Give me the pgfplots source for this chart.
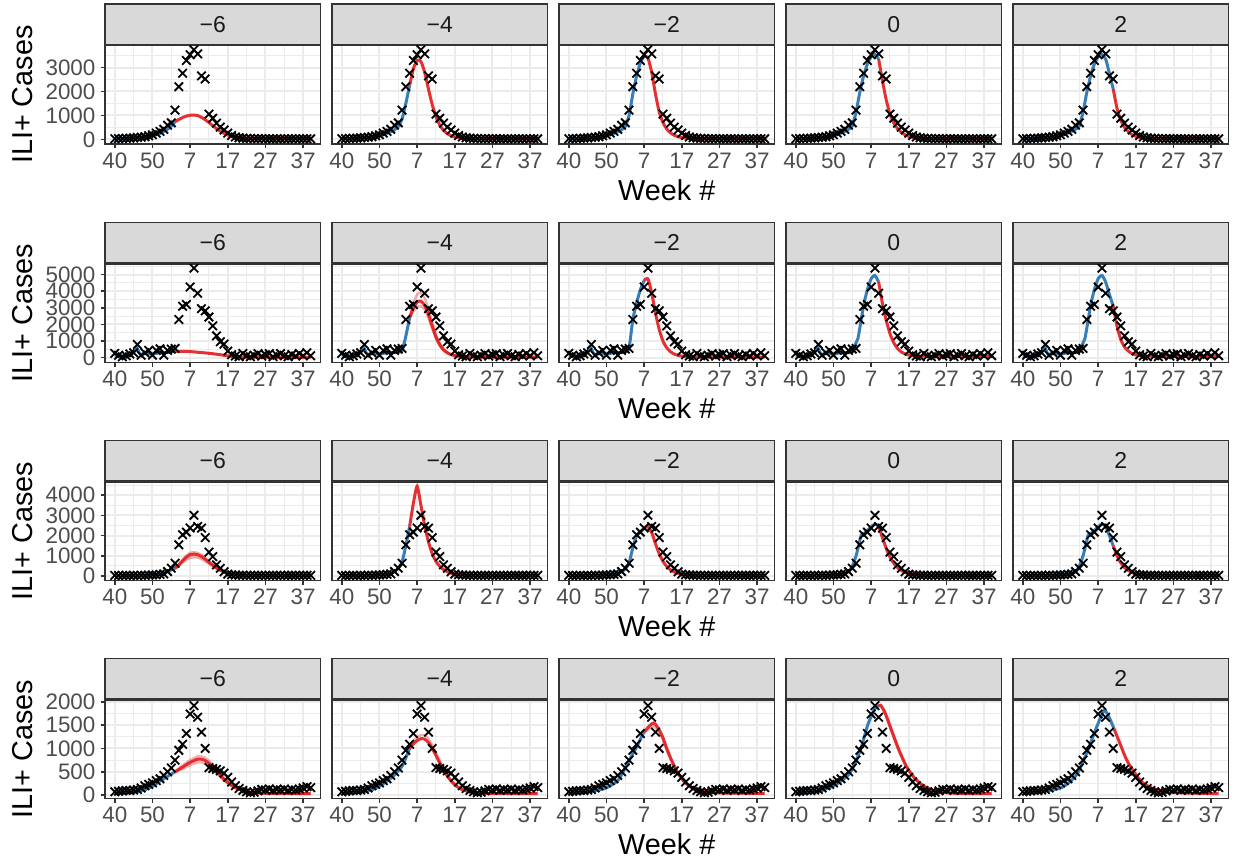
\documentclass[border=0pt]{standalone}
\usepackage{pgfplots}
\pgfplotsset{compat=1.18}
\usepackage{pgfplotstable}
\usepackage{fontspec}
\setmainfont{Liberation Sans}

\definecolor{gridc}{HTML}{EBEBEB}
\definecolor{framec}{HTML}{333333}
\definecolor{stripc}{HTML}{D9D9D9}
\definecolor{tickc}{HTML}{4D4D4D}
\definecolor{textc}{HTML}{1A1A1A}
\definecolor{bluec}{HTML}{377EB8}
\definecolor{redc}{HTML}{E41A1C}

\pgfplotstableread[row sep=\\]{
i v\\ 0 25\\ 1 30\\ 2 35\\ 3 45\\ 4 50\\ 5 60\\ 6 75\\ 7 90\\ 8 110\\ 9 150\\ 10 190\\ 11 260\\ 12 330\\ 13 420\\ 14 590\\ 15 690\\ 16 1220\\ 17 2200\\ 18 2760\\ 19 3290\\ 20 3530\\ 21 3740\\ 22 3570\\ 23 2650\\ 24 2520\\ 25 1050\\ 26 880\\ 27 680\\ 28 510\\ 29 390\\ 30 260\\ 31 160\\ 32 100\\ 33 70\\ 34 50\\ 35 40\\ 36 35\\ 37 30\\ 38 30\\ 39 28\\ 40 25\\ 41 25\\ 42 22\\ 43 25\\ 44 22\\ 45 25\\ 46 22\\ 47 25\\ 48 22\\ 49 25\\ 50 22\\ 51 25\\ 52 22\\
}\dataA

\pgfplotstableread[row sep=\\]{
i v\\ 0 260\\ 1 150\\ 2 60\\ 3 120\\ 4 220\\ 5 300\\ 6 800\\ 7 150\\ 8 300\\ 9 440\\ 10 150\\ 11 440\\ 12 540\\ 13 150\\ 14 440\\ 15 520\\ 16 560\\ 17 2300\\ 18 3100\\ 19 3200\\ 20 4250\\ 21 5390\\ 22 3880\\ 23 2950\\ 24 2820\\ 25 2450\\ 26 1920\\ 27 1320\\ 28 960\\ 29 820\\ 30 400\\ 31 180\\ 32 100\\ 33 60\\ 34 250\\ 35 120\\ 36 60\\ 37 150\\ 38 250\\ 39 100\\ 40 180\\ 41 250\\ 42 60\\ 43 150\\ 44 250\\ 45 120\\ 46 60\\ 47 200\\ 48 100\\ 49 250\\ 50 120\\ 51 300\\ 52 120\\
}\dataB

\pgfplotstableread[row sep=\\]{
i v\\ 0 30\\ 1 20\\ 2 25\\ 3 30\\ 4 20\\ 5 30\\ 6 25\\ 7 35\\ 8 30\\ 9 40\\ 10 50\\ 11 60\\ 12 80\\ 13 100\\ 14 220\\ 15 385\\ 16 630\\ 17 1540\\ 18 2040\\ 19 2170\\ 20 2370\\ 21 3000\\ 22 2450\\ 23 2370\\ 24 1900\\ 25 1180\\ 26 960\\ 27 550\\ 28 380\\ 29 210\\ 30 90\\ 31 60\\ 32 45\\ 33 40\\ 34 35\\ 35 30\\ 36 30\\ 37 30\\ 38 30\\ 39 30\\ 40 30\\ 41 30\\ 42 30\\ 43 30\\ 44 30\\ 45 30\\ 46 30\\ 47 30\\ 48 30\\ 49 30\\ 50 30\\ 51 30\\ 52 30\\
}\dataC

\pgfplotstableread[row sep=\\]{
i v\\ 0 70\\ 1 80\\ 2 90\\ 3 100\\ 4 95\\ 5 110\\ 6 120\\ 7 150\\ 8 200\\ 9 230\\ 10 260\\ 11 310\\ 12 350\\ 13 420\\ 14 500\\ 15 580\\ 16 750\\ 17 960\\ 18 1090\\ 19 1320\\ 20 1740\\ 21 1920\\ 22 1670\\ 23 1350\\ 24 1000\\ 25 590\\ 26 570\\ 27 550\\ 28 520\\ 29 470\\ 30 380\\ 31 280\\ 32 200\\ 33 140\\ 34 100\\ 35 70\\ 36 50\\ 37 60\\ 38 90\\ 39 120\\ 40 110\\ 41 130\\ 42 100\\ 43 120\\ 44 110\\ 45 130\\ 46 100\\ 47 120\\ 48 110\\ 49 130\\ 50 150\\ 51 180\\ 52 160\\
}\dataD

\pgfplotsset{
 every axis title shift=0pt,
 panel/.style={
  scale only axis, width=107.75pt, height=49.25pt, anchor=south west,
  xmin=-2.6, xmax=54.6,
  xtick={0,10,20,30,40,50}, xticklabels={40,50,7,17,27,37},
  minor xtick={5,15,25,35,45},
  xmajorgrids, ymajorgrids, xminorgrids, yminorgrids,
  major grid style={line width=1pt, gridc},
  minor grid style={line width=0.5pt, gridc},
  axis line style={framec, line width=0.75pt},
  tick style={framec, line width=0.75pt},
  minor tick length=0pt, major tick length=2.2pt, tick align=outside,
  xtick pos=bottom, ytick pos=left,
  ticklabel style={font=\fontsize{11.2}{12}\selectfont, text=tickc},
  yticklabel style={inner xsep=2.4pt, inner ysep=0pt},
  xticklabel style={inner sep=2pt},
  title style={at={(0.5,1)}, anchor=south, yshift=0pt, draw=framec, fill=stripc, line width=0.75pt,
    minimum width=107.75pt, minimum height=20.25pt, inner sep=0pt,
    font=\fontsize{11.5}{13}\selectfont, text=textc},
 },
 rowA/.style={ymin=-195, ymax=3920, ytick={0,1000,2000,3000}, yticklabels={0,1000,2000,3000}, minor ytick={500,1500,2500,3500}},
 rowB/.style={ymin=-275, ymax=5650, ytick={0,1000,2000,3000,4000,5000}, yticklabels={0,1000,2000,3000,4000,5000}, minor ytick={500,1500,2500,3500,4500,5500}},
 rowC/.style={ymin=-214, ymax=4660, ytick={0,1000,2000,3000,4000}, yticklabels={0,1000,2000,3000,4000}, minor ytick={500,1500,2500,3500,4500}},
 rowD/.style={ymin=-70, ymax=2045, ytick={0,500,1000,1500,2000}, yticklabels={0,500,1000,1500,2000}, minor ytick={250,750,1250,1750}},
 inner/.style={yticklabels={}, major y tick style={draw=none}},
 firstcol/.style={ylabel={ILI+ Cases}, ylabel style={at={(axis description cs:-0.3805,0.5)}, anchor=center, font=\fontsize{14.4}{17}\selectfont}},
 midcol/.style={xlabel={Week \#}, xlabel style={at={(axis description cs:0.5,-0.47)}, anchor=center, font=\fontsize{14.4}{17}\selectfont}},
 dat/.style={only marks, mark=x, mark size=3pt, mark options={line width=0.9pt, black}},
 bl/.style={bluec, line width=1.5pt, smooth, tension=0.4, no markers},
 rl/.style={redc, line width=1.5pt, smooth, tension=0.4, no markers, opacity=0.9},
 rb/.style={redc, line width=1.2pt, smooth, tension=0.4, no markers, opacity=0.35},
}

\begin{document}
\begin{tikzpicture}
\path (0,0) rectangle (619pt,431.5pt);

% ================= ROW 1 =================
\begin{axis}[panel,rowA,firstcol,at={(52.5pt,359.5pt)},title={−6}]
\addplot[bl] coordinates {(0,25) (2,30) (4,42) (6,60) (8,90) (10,150) (11,190) (12,250) (13,330) (14,420) (15,560) (16,740)};
\addplot[rl] coordinates {(16,740) (17,830) (18,910) (19,970) (20,1005) (21,1015) (22,990) (23,920) (24,820) (25,700) (26,570) (27,450) (28,340) (29,250) (30,180) (31,125) (32,90) (33,65) (34,48) (36,35) (40,28) (52,25)};
\addplot[dat] table[x=i,y=v] {\dataA};
\end{axis}
\begin{axis}[panel,rowA,inner,at={(166pt,359.5pt)},title={−4}]
\addplot[bl] coordinates {(0,25) (2,30) (4,42) (6,60) (8,90) (10,150) (11,190) (12,250) (13,320) (14,400) (15,540) (16,850) (17,1500) (18,2250)};
\addplot[rl] coordinates {(18,2250) (19,2950) (20,3300) (21,3250) (22,2800) (23,2100) (24,1450) (25,950) (26,600) (27,380) (28,240) (29,150) (30,100) (31,70) (33,45) (36,32) (52,25)};
\addplot[dat] table[x=i,y=v] {\dataA};
\end{axis}
\begin{axis}[panel,rowA,inner,midcol,at={(279.5pt,359.5pt)},title={−2}]
\addplot[bl] coordinates {(0,25) (2,30) (4,42) (6,60) (8,90) (10,150) (11,190) (12,250) (13,320) (14,400) (15,540) (16,1000) (17,1900) (18,2650) (19,3200) (20,3500)};
\addplot[rl] coordinates {(20,3500) (21,3400) (22,2800) (23,1900) (24,1150) (25,700) (26,430) (27,270) (28,170) (29,110) (30,75) (32,45) (36,30) (52,25)};
\addplot[dat] table[x=i,y=v] {\dataA};
\end{axis}
\begin{axis}[panel,rowA,inner,at={(393pt,359.5pt)},title={0}]
\addplot[bl] coordinates {(0,25) (2,30) (4,42) (6,60) (8,95) (10,160) (11,200) (12,260) (13,330) (14,420) (15,560) (16,1150) (17,1970) (18,2650) (19,3150) (20,3450) (21,3550) (22,3350)};
\addplot[rl] coordinates {(22,3350) (23,2450) (24,1650) (25,1050) (26,680) (27,450) (28,300) (29,190) (30,120) (31,80) (32,55) (34,38) (40,28) (52,25)};
\addplot[dat] table[x=i,y=v] {\dataA};
\end{axis}
\begin{axis}[panel,rowA,inner,at={(506.5pt,359.5pt)},title={2}]
\addplot[bl] coordinates {(0,25) (2,30) (4,42) (6,60) (8,95) (10,160) (11,200) (12,260) (13,330) (14,420) (15,560) (16,1150) (17,1970) (18,2650) (19,3150) (20,3450) (21,3550) (22,3350) (23,2750) (24,2100)};
\addplot[rl] coordinates {(24,2100) (25,1300) (26,800) (27,500) (28,320) (29,200) (30,125) (31,82) (32,56) (34,38) (40,28) (52,25)};
\addplot[dat] table[x=i,y=v] {\dataA};
\end{axis}

% ================= ROW 2 =================
\begin{axis}[panel,rowB,firstcol,at={(52.5pt,250.35pt)},title={−6}]
\addplot[bl] coordinates {(0,60) (1,90) (2,110) (3,150) (4,200) (5,330) (5.8,620) (6.7,220) (8,240) (9,240) (10,210) (11,260) (12,300) (13,300) (14,310) (15,340) (16,380)};
\addplot[rl] coordinates {(16,380) (18,385) (20,370) (22,330) (24,290) (26,240) (28,180) (30,110) (32,65) (34,42) (38,30) (52,25)};
\addplot[dat] table[x=i,y=v] {\dataB};
\end{axis}
\begin{axis}[panel,rowB,inner,at={(166pt,250.35pt)},title={−4}]
\addplot[bl] coordinates {(0,60) (1,90) (2,110) (3,150) (4,200) (5,330) (5.8,620) (6.7,220) (8,240) (9,240) (10,210) (11,260) (12,300) (13,300) (14,310) (15,340) (16,420) (17,1300) (18,2400)};
\addplot[rb] coordinates {(18,2400) (19,3300) (20,3800) (21,3900) (22,3600) (23,2950) (24,2150) (25,1400) (26,870) (27,530) (28,330) (29,210) (30,140) (32,75) (35,48) (40,36) (52,30)};
\addplot[rb] coordinates {(18,2400) (19,2800) (20,3050) (21,3100) (22,2900) (23,2400) (24,1750) (25,1150) (26,720) (27,440) (28,280) (29,180) (30,120) (32,65) (35,44) (40,34) (52,30)};
\addplot[rl] coordinates {(18,2400) (19,3000) (20,3350) (21,3400) (22,3150) (23,2600) (24,1900) (25,1250) (26,780) (27,480) (28,300) (29,190) (30,130) (32,70) (35,45) (40,35) (52,30)};
\addplot[dat] table[x=i,y=v] {\dataB};
\end{axis}
\begin{axis}[panel,rowB,inner,midcol,at={(279.5pt,250.35pt)},title={−2}]
\addplot[bl] coordinates {(0,60) (1,90) (2,110) (3,150) (4,200) (5,330) (5.8,620) (6.7,220) (8,240) (9,240) (10,210) (11,260) (12,300) (13,300) (14,310) (15,340) (16,600) (17,2300) (18,3300) (19,4100) (20,4650)};
\addplot[rl] coordinates {(20,4650) (21,4750) (22,3900) (23,2700) (24,1700) (25,1000) (26,600) (27,360) (28,220) (29,140) (30,100) (32,60) (36,40) (52,30)};
\addplot[dat] table[x=i,y=v] {\dataB};
\end{axis}
\begin{axis}[panel,rowB,inner,at={(393pt,250.35pt)},title={0}]
\addplot[bl] coordinates {(0,60) (1,90) (2,110) (3,150) (4,200) (5,330) (5.8,620) (6.7,220) (8,240) (9,240) (10,210) (11,260) (12,300) (13,300) (14,310) (15,360) (16,900) (16.5,1160) (17,1800) (18,3150) (19,4100) (20,4750) (21,4950) (22,4550)};
\addplot[rl] coordinates {(22,4550) (23,3250) (24,2250) (25,1450) (26,900) (27,560) (28,350) (29,230) (30,160) (32,110) (35,90) (52,80)};
\addplot[dat] table[x=i,y=v] {\dataB};
\end{axis}
\begin{axis}[panel,rowB,inner,at={(506.5pt,250.35pt)},title={2}]
\addplot[bl] coordinates {(0,60) (1,90) (2,110) (3,150) (4,200) (5,330) (5.8,620) (6.7,220) (8,240) (9,240) (10,210) (11,260) (12,300) (13,300) (14,310) (15,360) (16,900) (16.5,1160) (17,1800) (18,3150) (19,4100) (20,4750) (21,4950) (22,4550) (23,3800) (24,3100)};
\addplot[rl] coordinates {(24,3100) (25,1900) (26,1100) (27,650) (28,400) (29,250) (30,170) (32,110) (36,80) (52,70)};
\addplot[dat] table[x=i,y=v] {\dataB};
\end{axis}

% ================= ROW 3 =================
\begin{axis}[panel,rowC,firstcol,at={(52.5pt,141.35pt)},title={−6}]
\addplot[bl] coordinates {(0,20) (4,25) (8,35) (10,50) (12,100) (13,140) (14,220) (15,300) (16,383)};
\addplot[rb] coordinates {(16,383) (17,580) (18,810) (19,1010) (20,1140) (21,1180) (22,1140) (23,1040) (24,900) (25,735) (26,570) (27,430) (28,310) (29,215) (30,150) (31,105) (32,78) (34,52) (38,36) (52,30)};
\addplot[rb] coordinates {(16,383) (17,500) (18,660) (19,800) (20,890) (21,920) (22,900) (23,830) (24,720) (25,600) (26,470) (27,360) (28,260) (29,180) (30,125) (31,90) (32,68) (34,46) (38,34) (52,30)};
\addplot[rl] coordinates {(16,383) (17,550) (18,750) (19,930) (20,1050) (21,1080) (22,1050) (23,960) (24,830) (25,680) (26,530) (27,400) (28,290) (29,200) (30,140) (31,100) (32,75) (34,50) (38,35) (52,30)};
\addplot[dat] table[x=i,y=v] {\dataC};
\end{axis}
\begin{axis}[panel,rowC,inner,at={(166pt,141.35pt)},title={−4}]
\addplot[bl] coordinates {(0,20) (4,25) (8,35) (10,50) (12,100) (13,140) (14,220) (15,380) (16,700) (17,1500) (18,2450)};
\addplot[rl] coordinates {(18,2450) (19,3600) (20,4440) (21,3500) (22,2500) (23,1700) (24,1100) (25,720) (26,480) (27,320) (28,210) (29,140) (30,95) (32,55) (36,38) (52,30)};
\addplot[dat] table[x=i,y=v] {\dataC};
\end{axis}
\begin{axis}[panel,rowC,inner,midcol,at={(279.5pt,141.35pt)},title={−2}]
\addplot[bl] coordinates {(0,20) (4,25) (8,35) (10,50) (12,100) (13,140) (14,220) (15,350) (16,650) (17,1400) (18,2000) (19,2200) (20,2350)};
\addplot[rl] coordinates {(20,2350) (21,2450) (22,2150) (23,1600) (24,1100) (25,720) (26,470) (27,300) (28,200) (29,130) (30,90) (32,55) (36,38) (52,30)};
\addplot[dat] table[x=i,y=v] {\dataC};
\end{axis}
\begin{axis}[panel,rowC,inner,at={(393pt,141.35pt)},title={0}]
\addplot[bl] coordinates {(0,20) (4,25) (8,35) (10,50) (12,100) (13,140) (14,216) (15,500) (16,1000) (16.5,1376) (17.4,2040) (18.3,2123) (19.6,2373) (21,2570) (22,2453)};
\addplot[rl] coordinates {(22,2453) (23.2,1791) (24.5,1128) (25.8,680) (27.2,383) (28.9,184) (31.2,85) (34,50) (52,40)};
\addplot[dat] table[x=i,y=v] {\dataC};
\end{axis}
\begin{axis}[panel,rowC,inner,at={(506.5pt,141.35pt)},title={2}]
\addplot[bl] coordinates {(0,20) (4,25) (8,35) (10,50) (12,100) (13,140) (14,216) (15,500) (16,1000) (16.5,1376) (17.4,2040) (18.3,2123) (19.6,2373) (21,2570) (22,2450) (23,2000) (24,1500)};
\addplot[rl] coordinates {(24,1500) (25,1000) (26,650) (27,420) (28,270) (29,170) (30,110) (32,65) (36,42) (52,38)};
\addplot[dat] table[x=i,y=v] {\dataC};
\end{axis}

% ================= ROW 4 =================
\begin{axis}[panel,rowD,firstcol,at={(52.5pt,32.35pt)},title={−6}]
\addplot[bl] coordinates {(0,40) (4.5,50) (8.2,121) (10.5,214) (12.1,306) (14,400) (16,500)};
\addplot[rb] coordinates {(16,500) (18,640) (20,750) (22,830) (23,830) (24,800) (25,735) (26,650) (27,550) (28,455) (29,365) (30,290) (31,225) (32,172) (34,100) (36,62) (40,39) (52,30)};
\addplot[rb] coordinates {(16,500) (18,560) (20,640) (22,700) (23,700) (24,675) (25,620) (26,550) (27,470) (28,385) (29,310) (30,248) (31,192) (32,148) (34,88) (36,56) (40,37) (52,30)};
\addplot[rl] coordinates {(16,500) (18,600) (20,700) (22,770) (23,770) (24,740) (25,680) (26,600) (27,510) (28,420) (29,340) (30,270) (31,210) (32,160) (34,95) (36,60) (40,38) (52,30)};
\addplot[dat] table[x=i,y=v] {\dataD};
\end{axis}
\begin{axis}[panel,rowD,inner,at={(166pt,32.35pt)},title={−4}]
\addplot[bl] coordinates {(0,35) (4,50) (8,110) (10,190) (12,300) (14,430) (16,620) (17,800) (18,1000)};
\addplot[rb] coordinates {(18,1000) (19,1140) (20,1240) (21,1290) (22,1280) (23,1210) (24,1070) (25,910) (26,740) (27,580) (28,440) (29,320) (30,235) (31,170) (32,122) (34,68) (36,46) (40,35) (52,30)};
\addplot[rl] coordinates {(18,1000) (19,1100) (20,1170) (21,1210) (22,1200) (23,1130) (24,1000) (25,850) (26,690) (27,540) (28,410) (29,300) (30,220) (31,160) (32,115) (34,65) (36,45) (40,35) (52,30)};
\addplot[dat] table[x=i,y=v] {\dataD};
\end{axis}
\begin{axis}[panel,rowD,inner,midcol,at={(279.5pt,32.35pt)},title={−2}]
\addplot[bl] coordinates {(0,30) (5,60) (9.6,143) (13.1,320) (15.8,712) (18,1032) (19.7,1318) (20,1350)};
\addplot[rb] coordinates {(20,1350) (21,1400) (22,1460) (22.5,1470) (23,1450) (24,1340) (25,1180) (26,960) (27,770) (28,600) (29,455) (30,340) (31,252) (32,185) (34,108) (36,68) (40,44) (52,35)};
\addplot[rl] coordinates {(20,1350) (21,1450) (22,1530) (22.5,1546) (23,1520) (24,1400) (25,1230) (26,1000) (27,800) (28,620) (29,470) (30,350) (31,260) (32,190) (34,110) (36,70) (40,45) (52,35)};
\addplot[dat] table[x=i,y=v] {\dataD};
\end{axis}
\begin{axis}[panel,rowD,inner,at={(393pt,32.35pt)},title={0}]
\addplot[bl] coordinates {(0,30) (5.9,71) (10.4,214) (13.9,427) (15.7,677) (17.4,1032) (19.2,1531) (21,1852) (22,1910)};
\addplot[rb] coordinates {(22,1910) (22.5,1940) (23.6,1810) (25.4,1420) (27.2,1025) (29.4,625) (31.6,368) (34.2,184) (37.8,73) (43,37) (52,30)};
\addplot[rl] coordinates {(22,1910) (22.5,1923) (23.6,1780) (25.4,1389) (27.2,997) (29.4,605) (31.6,356) (34.2,178) (37.8,71) (43,36) (52,30)};
\addplot[dat] table[x=i,y=v] {\dataD};
\end{axis}
\begin{axis}[panel,rowD,inner,at={(506.5pt,32.35pt)},title={2}]
\addplot[bl] coordinates {(0,30) (9.8,143) (14.2,427) (16.9,890) (19.6,1460) (21.6,1817) (23.1,1638) (24.2,1425)};
\addplot[rl] coordinates {(24.2,1425) (25.8,1104) (27.6,748) (29.8,463) (32,250) (35.6,107) (40.9,50) (52,30)};
\addplot[dat] table[x=i,y=v] {\dataD};
\end{axis}
\end{tikzpicture}
\end{document}
